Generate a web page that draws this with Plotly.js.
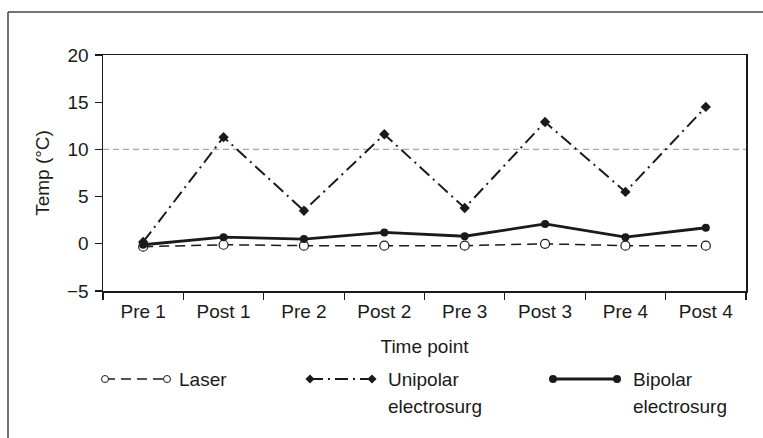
<!DOCTYPE html>
<html>
<head>
<meta charset="utf-8">
<script src="https://cdn.plot.ly/plotly-3.0.1.min.js"></script>
<style>
  html, body { margin: 0; padding: 0; background: #fff; }
  #chart { width: 763px; height: 438px; }
</style>
</head>
<body>
<div id="chart"></div>
<script>
// ---- data ----
const categories = ['Pre 1', 'Post 1', 'Pre 2', 'Post 2', 'Pre 3', 'Post 3', 'Pre 4', 'Post 4'];
const laser      = [-0.3, -0.1, -0.2, -0.2, -0.2, 0.0, -0.2, -0.2];
const unipolar   = [0.2, 11.3, 3.5, 11.6, 3.8, 12.9, 5.5, 14.5];
const bipolar    = [-0.1, 0.7, 0.5, 1.2, 0.8, 2.1, 0.7, 1.7];
const yTicks     = [-5, 0, 5, 10, 15, 20];
const refLevel   = 10;
const seriesNames = ['Laser', 'Unipolar', 'Bipolar'];
const seriesSub   = ['', 'electrosurg', 'electrosurg'];

// ---- styles ----
const INK = '#1a1a1a';
const FONT = 'Liberation Sans, Arial, sans-serif';
const FS = 19;
const styles = [
  { line: { color: INK, width: 1.5, dash: '10px,6px' },
    marker: { symbol: 'circle', size: 9, color: '#fff', line: { color: INK, width: 1.2 } },
    lmarker: { symbol: 'circle', size: 7, color: '#fff', line: { color: INK, width: 1 } } },
  { line: { color: INK, width: 2, dash: '13px,5px,2px,5px' },
    marker: { symbol: 'diamond', size: 8, color: INK, line: { width: 0 } },
    lmarker: { symbol: 'diamond', size: 7, color: INK, line: { width: 0 } } },
  { line: { color: INK, width: 2.8 },
    marker: { symbol: 'circle', size: 8, color: INK, line: { width: 0 } },
    lmarker: { symbol: 'circle', size: 8, color: INK, line: { width: 0 } } }
];
const seriesData = [laser, unipolar, bipolar];

const traces = [];
[0, 2, 1].forEach(i => {
  traces.push({
    type: 'scatter', mode: 'lines+markers',
    x: categories, y: seriesData[i], name: seriesNames[i],
    line: styles[i].line, marker: styles[i].marker,
    showlegend: false, hoverinfo: 'skip', xaxis: 'x', yaxis: 'y'
  });
});

// ---- custom legend (on a hidden pixel-scaled axis pair) ----
const legendX = [[105, 167], [310, 372], [553, 617]];
const legendTextX = [177, 386, 631];
const legendRowY = 379, legendRow2Y = 406;
const annotations = [];
for (let i = 0; i < 3; i++) {
  traces.push({
    type: 'scatter', mode: 'lines+markers', cliponaxis: false,
    x: legendX[i], y: [legendRowY, legendRowY],
    line: styles[i].line, marker: styles[i].lmarker,
    showlegend: false, hoverinfo: 'skip', xaxis: 'x2', yaxis: 'y2'
  });
  annotations.push({ xref: 'x2', yref: 'y2', x: legendTextX[i], y: legendRowY,
    text: seriesNames[i], showarrow: false, xanchor: 'left', yanchor: 'middle',
    font: { family: FONT, size: FS, color: INK } });
  if (seriesSub[i]) {
    annotations.push({ xref: 'x2', yref: 'y2', x: legendTextX[i], y: legendRow2Y,
      text: seriesSub[i], showarrow: false, xanchor: 'left', yanchor: 'middle',
      font: { family: FONT, size: FS, color: INK } });
  }
}

const layout = {
  width: 763, height: 438,
  margin: { l: 103, r: 17, t: 55, b: 20 },
  paper_bgcolor: '#fff', plot_bgcolor: '#fff',
  showlegend: false,
  font: { family: FONT, size: FS, color: INK },
  xaxis: {
    type: 'category', anchor: 'y', domain: [0, 1],
    range: [-0.5, categories.length - 0.5],
    tickson: 'boundaries', ticks: 'outside', ticklen: 7, tickwidth: 1.2, tickcolor: INK,
    ticklabelstandoff: 3,
    showline: true, linecolor: INK, linewidth: 1.5, mirror: true,
    showgrid: false, zeroline: false,
    tickfont: { family: FONT, size: FS, color: INK },
    title: { text: 'Time point', standoff: 18, font: { family: FONT, size: FS, color: INK } }
  },
  yaxis: {
    anchor: 'x', domain: [(418 - 291) / 363, 1],
    range: [-5, 20], tickvals: yTicks,
    ticks: 'outside', ticklen: 7, tickwidth: 1.2, tickcolor: INK,
    ticklabelstandoff: 2,
    showline: true, linecolor: INK, linewidth: 1.5, mirror: true,
    showgrid: false, zeroline: false,
    tickfont: { family: FONT, size: FS, color: INK },
    title: { text: 'Temp (°C)', standoff: 12, font: { family: FONT, size: FS, color: INK } }
  },
  xaxis2: { anchor: 'y2', domain: [0, 1], range: [103, 746], visible: false, fixedrange: true },
  yaxis2: { anchor: 'x2', domain: [0, 0.25], range: [418, 418 - 0.25 * 363], visible: false, fixedrange: true },
  shapes: [
    { type: 'line', xref: 'x domain', yref: 'y', x0: 0, x1: 1, y0: refLevel, y1: refLevel,
      line: { color: '#a8a8a8', width: 1.2, dash: '6px,4px' }, layer: 'below' },
    // outer frame
    { type: 'line', xref: 'paper', yref: 'paper', x0: (8 - 103) / 643, x1: (8 - 103) / 643,
      y0: -0.1, y1: (418 - 12) / 363, line: { color: '#444', width: 1.5 } },
    { type: 'line', xref: 'paper', yref: 'paper', x0: (8 - 103) / 643, x1: 1.05,
      y0: (418 - 12) / 363, y1: (418 - 12) / 363, line: { color: '#444', width: 1.5 } }
  ],
  annotations: annotations
};

Plotly.newPlot('chart', traces, layout, { staticPlot: true, displayModeBar: false });
</script>
</body>
</html>
